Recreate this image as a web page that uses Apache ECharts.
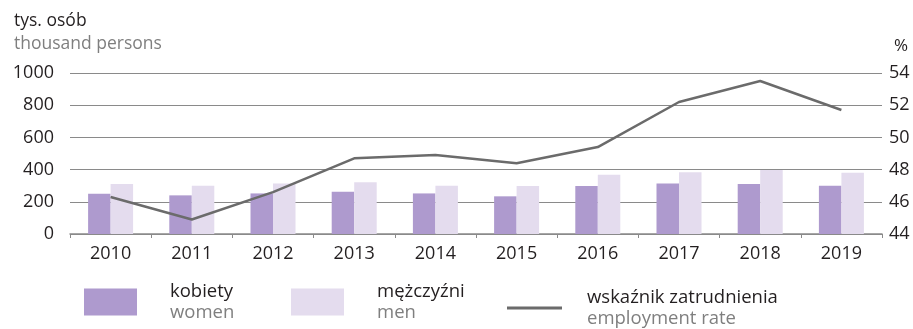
<!DOCTYPE html>
<html>
<head>
<meta charset="utf-8">
<script src="https://cdn.jsdelivr.net/npm/echarts@6/dist/echarts.min.js"></script>
<style>
  html, body { margin: 0; padding: 0; background: #fff; }
  #chart { width: 913px; height: 329px; }
</style>
</head>
<body>
<div id="chart"></div>
<script>
// Employment: women and men (thousand persons), employment rate (%)
const years = ['2010', '2011', '2012', '2013', '2014', '2015', '2016', '2017', '2018', '2019'];
const women = [250, 240, 252, 262, 252, 234, 298, 314, 310, 300];
const men = [310, 300, 314, 322, 300, 298, 368, 384, 397, 380];
const employmentRate = [46.3, 44.9, 46.6, 48.7, 48.9, 48.4, 49.4, 52.2, 53.5, 51.7];

const FONT = '"Open Sans", sans-serif';
const DARK = '#231f20';
const GREY = '#7f7f7f';

const chart = echarts.init(document.getElementById('chart'));

function legendRich(main, sub, gap) {
  return {
    show: true,
    orient: 'horizontal',
    icon: 'rect',
    padding: 0,
    itemWidth: 53,
    itemHeight: 27,
    itemGap: 0,
    selectedMode: false,
    textStyle: {
      fontFamily: FONT,
      padding: [0, 0, 0, gap],
      rich: {
        a: { fontFamily: FONT, fontSize: 18.5, color: DARK, lineHeight: 21 },
        b: { fontFamily: FONT, fontSize: 18.5, color: GREY, lineHeight: 21 }
      }
    },
    formatter: function () { return '{a|' + main + '}\n{b|' + sub + '}'; }
  };
}

const legends = [
  Object.assign(legendRich('kobiety', 'women', 28), { data: ['kobiety'], left: 84, top: 282 }),
  Object.assign(legendRich('mężczyźni', 'men', 28), { data: ['mężczyźni'], left: 291, top: 282 }),
  Object.assign(legendRich('wskaźnik zatrudnienia', 'employment rate', 20), {
    data: [{ name: 'wskaźnik zatrudnienia', icon: 'rect', itemStyle: { color: '#6b6b6b' } }],
    left: 507, top: 288, itemWidth: 55, itemHeight: 3
  })
];

chart.setOption({
  animation: false,
  title: {
    text: 'tys. osób',
    subtext: 'thousand persons',
    left: 9,
    top: 7,
    itemGap: 5,
    textStyle: { fontFamily: FONT, fontSize: 17.5, fontWeight: 'normal', color: DARK },
    subtextStyle: { fontFamily: FONT, fontSize: 17.5, color: GREY }
  },
  legend: legends,
  grid: { left: 70, right: 31, top: 73, bottom: 95 },
  xAxis: {
    type: 'category',
    data: years,
    boundaryGap: true,
    axisLine: { lineStyle: { color: '#8a8a8a', width: 1.5 } },
    axisTick: { show: true, length: 4, interval: 0, lineStyle: { color: '#8a8a8a' } },
    axisLabel: { fontFamily: FONT, fontSize: 18, color: DARK, margin: 11 }
  },
  yAxis: [
    {
      type: 'value',
      min: 0,
      max: 1000,
      interval: 200,
      axisLine: { show: false },
      axisTick: { show: false },
      axisLabel: { fontFamily: FONT, fontSize: 18, color: DARK, margin: 16, formatter: function (v) { return String(v); } },
      splitLine: { lineStyle: { color: '#8a8a8a', width: 1 } }
    },
    {
      type: 'value',
      min: 44,
      max: 54,
      interval: 2,
      name: '%',
      nameLocation: 'end',
      nameGap: 18,
      nameTextStyle: { fontFamily: FONT, fontSize: 17, color: DARK, align: 'left', padding: [0, 0, 0, 12] },
      axisLine: { show: false },
      axisTick: { show: false },
      axisLabel: { fontFamily: FONT, fontSize: 18, color: DARK, margin: 7 },
      splitLine: { show: false }
    }
  ],
  series: [
    {
      name: 'kobiety',
      type: 'bar',
      data: women,
      barWidth: 22.5,
      barGap: '0%',
      itemStyle: { color: '#ae9ace' }
    },
    {
      name: 'mężczyźni',
      type: 'bar',
      data: men,
      barWidth: 22.5,
      barGap: '0%',
      itemStyle: { color: '#e4dcee' }
    },
    {
      name: 'wskaźnik zatrudnienia',
      type: 'line',
      yAxisIndex: 1,
      data: employmentRate,
      showSymbol: false,
      symbol: 'none',
      lineStyle: { color: '#6b6b6b', width: 2.5 },
      itemStyle: { color: '#6b6b6b' },
      z: 5
    }
  ]
});
</script>
</body>
</html>
